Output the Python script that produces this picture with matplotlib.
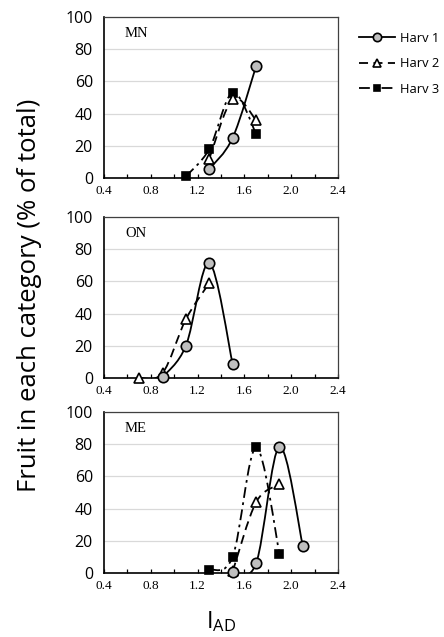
import matplotlib

matplotlib.use("Agg")

import matplotlib.pyplot as plt
import numpy as np
from matplotlib.lines import Line2D
from matplotlib.patches import PathPatch
from matplotlib.path import Path

# I_AD class midpoints and % of fruit per class, by district and harvest
mn_harv1_x = [1.3, 1.5, 1.7]
mn_harv1_y = [5.5, 25, 69.5]
mn_harv2_x = [1.3, 1.5, 1.7]
mn_harv2_y = [12, 49, 36]
mn_harv3_x = [1.1, 1.3, 1.5, 1.7]
mn_harv3_y = [1, 18, 53, 27.5]

on_harv1_x = [0.9, 1.1, 1.3, 1.5]
on_harv1_y = [0.5, 20, 71.5, 8.5]
on_harv2_x = [0.7, 0.9, 1.1, 1.3]
on_harv2_y = [0, 3, 36.5, 59]

me_harv1_x = [1.5, 1.7, 1.9, 2.1]
me_harv1_y = [0.5, 6, 78.5, 16.5]
me_harv2_x = [1.5, 1.7, 1.9]
me_harv2_y = [1, 44, 55]
me_harv3_x = [1.3, 1.5, 1.7, 1.9]
me_harv3_y = [2, 10, 78, 12]

panel_names = ["MN", "ON", "ME"]
series_labels = ["Harv 1", "Harv 2", "Harv 3"]
x_ticks = [0.4, 0.8, 1.2, 1.6, 2.0, 2.4]
y_ticks = [0, 20, 40, 60, 80, 100]

SANS = "Open Sans"
SERIF = "Liberation Serif"

STYLES = {
    "Harv 1": dict(marker="o", mfc="#bfbfbf", mec="black", ms=7.5, ls="-"),
    "Harv 2": dict(marker="^", mfc="white", mec="black", ms=7.5, ls=(0, (5, 3))),
    "Harv 3": dict(marker="s", mfc="black", mec="black", ms=6, ls=(0, (6, 2.5, 1.5, 2.5))),
}


def smooth_path(xs, ys):
    # Catmull-Rom segments expressed as cubic Bezier curves
    pts = np.column_stack([xs, ys]).astype(float)
    n = len(pts)
    verts = [pts[0]]
    codes = [Path.MOVETO]
    for i in range(n - 1):
        p0 = pts[i - 1] if i > 0 else pts[i]
        p1 = pts[i]
        p2 = pts[i + 1]
        p3 = pts[i + 2] if i + 2 < n else pts[i + 1]
        c1 = p1 + (p2 - p0) / 6
        c2 = p2 - (p3 - p1) / 6
        verts += [c1, c2, p2]
        codes += [Path.CURVE4] * 3
    return Path(verts, codes)


def draw_series(ax, xs, ys, label):
    st = STYLES[label]
    patch = PathPatch(smooth_path(xs, ys), facecolor="none", edgecolor="black",
                      lw=1.3, linestyle=st["ls"], zorder=2)
    ax.add_patch(patch)
    ax.plot(xs, ys, ls="none", marker=st["marker"], mfc=st["mfc"], mec=st["mec"],
            mew=1.2, ms=st["ms"], zorder=3, clip_on=False)


def style_axes(ax, name):
    ax.set_xlim(0.4, 2.4)
    ax.set_ylim(0, 100)
    ax.set_xticks(x_ticks)
    ax.set_xticks(np.arange(0.4, 2.41, 0.2), minor=True)
    ax.set_yticks(y_ticks)
    ax.yaxis.grid(True, color="#d9d9d9", lw=0.9)
    ax.set_axisbelow(True)
    ax.tick_params(axis="x", which="both", direction="in", length=3, width=0.9,
                   pad=5, labelsize=9.5)
    ax.tick_params(axis="y", length=0, pad=8, labelsize=11.5)
    for lbl in ax.get_xticklabels():
        lbl.set_fontfamily(SERIF)
    for lbl in ax.get_yticklabels():
        lbl.set_fontfamily(SANS)
    for side in ["top", "right"]:
        ax.spines[side].set_color("#404040")
        ax.spines[side].set_linewidth(0.9)
    for side in ["left", "bottom"]:
        ax.spines[side].set_color("black")
        ax.spines[side].set_linewidth(1.2)
    ax.text(0.09, 0.9, name, transform=ax.transAxes, fontfamily=SERIF,
            fontsize=10.5, va="center", ha="left")


fig = plt.figure(figsize=(4.44, 6.37), dpi=100)
left, width = 104 / 444, 234 / 444
tops = [17, 217, 412]
height = 161 / 637
axes = [fig.add_axes([left, 1 - (t + 161) / 637, width, height]) for t in tops]

panels = [
    [(mn_harv1_x, mn_harv1_y), (mn_harv2_x, mn_harv2_y), (mn_harv3_x, mn_harv3_y)],
    [(on_harv1_x, on_harv1_y), (on_harv2_x, on_harv2_y), None],
    [(me_harv1_x, me_harv1_y), (me_harv2_x, me_harv2_y), (me_harv3_x, me_harv3_y)],
]

for ax, name, series in zip(axes, panel_names, panels):
    style_axes(ax, name)
    # draw later harvests first so Harv 1 sits on top
    for label, data in reversed(list(zip(series_labels, series))):
        if data is not None:
            draw_series(ax, data[0], data[1], label)

handles = []
for label in series_labels:
    st = STYLES[label]
    handles.append(Line2D([], [], color="black", lw=1.3, ls=st["ls"], marker=st["marker"],
                          mfc=st["mfc"], mec=st["mec"], mew=1.2, ms=st["ms"] - 1.5))
fig.legend(handles, series_labels, loc="upper left", bbox_to_anchor=(359 / 444, 1 - 32 / 637),
           frameon=False, handlelength=2.8, handletextpad=0.35, labelspacing=0.95,
           borderpad=0, borderaxespad=0, prop={"family": SANS, "size": 9.3})

fig.text(0.066, 1 - 295 / 637, "Fruit in each category (% of total)", rotation=90,
         ha="center", va="center", fontfamily=SANS, fontsize=18.5)
fig.text(221 / 444, 1 - 622 / 637, r"$\mathregular{I_{AD}}$", ha="center", va="center",
         fontfamily=SANS, fontsize=17)

fig.savefig("out.png", dpi=100)
